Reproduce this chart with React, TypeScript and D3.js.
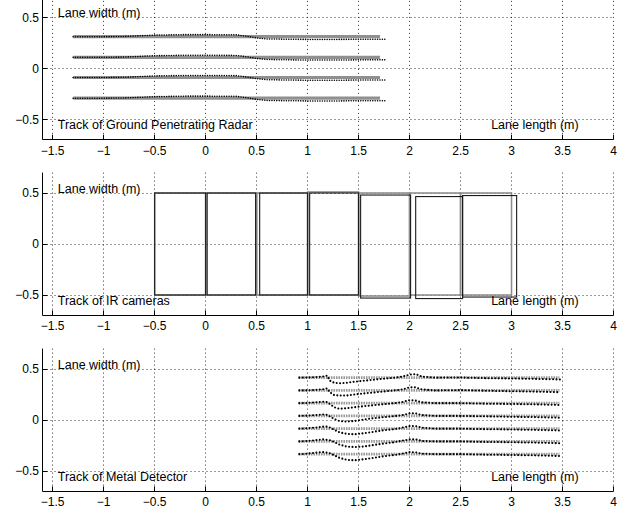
import React from "react";
import * as d3 from "d3";

// ---------- shared axis content ----------
const xTicks = [-1.5, -1, -0.5, 0, 0.5, 1, 1.5, 2, 2.5, 3, 3.5, 4];
const yTicks = [-0.5, 0, 0.5];
const panelTitles = [
  "Track of Ground Penetrating Radar",
  "Track of IR cameras",
  "Track of Metal Detector",
];
const yLabel = "Lane width (m)";
const xLabel = "Lane length (m)";

// ---------- Ground Penetrating Radar ----------
const gprTrackY = [0.31, 0.108, -0.09, -0.293];
const gprRefX = [-1.3, 1.71];
const gprX = [-1.3, -1.0, -0.8, -0.5, -0.2, 0.0, 0.3, 0.4, 0.5, 0.6, 0.8, 1.0, 1.3, 1.5, 1.77];
const gprDev = [0, 0, 0.002, 0.015, 0.02, 0.02, 0.018, 0.005, -0.012, -0.022, -0.025, -0.027, -0.027, -0.025, -0.025];

// ---------- IR cameras (frames) ----------
const irRefX0 = [-0.5, 0.0, 0.5, 1.0, 1.5, 2.0, 2.5];
const irRefX1 = [0.0, 0.5, 1.0, 1.5, 2.0, 2.5, 3.0];
const irRefTop = [0.5, 0.5, 0.5, 0.51, 0.5, 0.5, 0.5];
const irRefBottom = [-0.5, -0.5, -0.5, -0.5, -0.51, -0.5, -0.5];
const irMeasX0 = [-0.5, 0.015, 0.53, 1.02, 1.52, 2.06, 2.52];
const irMeasX1 = [0.0, 0.49, 1.0, 1.5, 2.01, 2.52, 3.05];
const irMeasTop = [0.5, 0.5, 0.5, 0.5, 0.48, 0.465, 0.475];
const irMeasBottom = [-0.5, -0.5, -0.5, -0.5, -0.53, -0.535, -0.52];

// ---------- Metal Detector ----------
const mdTrackY = [0.415, 0.29, 0.165, 0.04, -0.085, -0.21, -0.335];
const mdRefX = [0.91, 3.47];
const mdX = [0.92, 1.0, 1.08, 1.15, 1.19, 1.22, 1.26, 1.31, 1.38, 1.46, 1.55, 1.65, 1.75, 1.85, 1.93, 2.0, 2.06, 2.12, 2.25, 2.5, 2.75, 3.0, 3.25, 3.48];
const mdDev1 = [0.0, 0.002, 0.005, 0.01, 0.02, -0.03, -0.05, -0.055, -0.05, -0.04, -0.03, -0.02, -0.01, 0.0, 0.01, 0.03, 0.035, 0.01, 0.0, 0.002, -0.005, -0.008, -0.012, -0.018];
const mdDev2 = [0.0, 0.0, 0.005, 0.01, 0.02, -0.02, -0.045, -0.05, -0.05, -0.04, -0.03, -0.02, -0.01, 0.0, 0.01, 0.03, 0.03, 0.01, 0.0, 0.003, -0.003, -0.008, -0.012, -0.018];
const mdDev3 = [0.0, 0.002, 0.008, 0.015, 0.01, -0.01, -0.04, -0.055, -0.05, -0.04, -0.03, -0.02, -0.01, 0.0, 0.012, 0.03, 0.025, 0.008, 0.0, 0.0, -0.005, -0.008, -0.012, -0.018];
const mdDev4 = [0.0, 0.003, 0.008, 0.015, 0.01, -0.005, -0.03, -0.05, -0.055, -0.05, -0.035, -0.022, -0.012, -0.002, 0.008, 0.025, 0.025, 0.008, 0.0, 0.0, -0.004, -0.008, -0.012, -0.018];
const mdDev5 = [0.0, 0.005, 0.01, 0.02, 0.02, 0.01, -0.01, -0.035, -0.05, -0.055, -0.045, -0.03, -0.015, -0.005, 0.01, 0.025, 0.025, 0.01, 0.0, 0.0, -0.005, -0.008, -0.012, -0.018];
const mdDev6 = [0.0, 0.005, 0.012, 0.02, 0.015, 0.01, -0.005, -0.03, -0.05, -0.055, -0.05, -0.035, -0.02, -0.008, 0.008, 0.02, 0.02, 0.005, 0.0, 0.0, -0.005, -0.008, -0.012, -0.018];
const mdDev7 = [0.0, 0.005, 0.015, 0.02, 0.015, 0.008, -0.01, -0.035, -0.055, -0.06, -0.05, -0.035, -0.02, -0.008, 0.005, 0.02, 0.018, 0.005, 0.0, 0.0, -0.005, -0.008, -0.012, -0.018];
const mdDevs = [mdDev1, mdDev2, mdDev3, mdDev4, mdDev5, mdDev6, mdDev7];

// ---------- layout ----------
const W = 628;
const H = 519;
const LEFT = 42.5;
const RIGHT = 613.5;
const PANEL_TOPS = [-3.1, 172.6, 348.6];
const PANEL_H = 142.8;
const FONT = "'Liberation Sans', Arial, Helvetica, sans-serif";

const x = d3.scaleLinear().domain([-1.6, 4]).range([LEFT, RIGHT]);
const fmt = (v: number) => String(v).replace("-", "\u2212");

function Panel({ top, title, children }: { top: number; title: string; children: (y: d3.ScaleLinear<number, number>) => React.ReactNode }) {
  const y = d3.scaleLinear().domain([-0.7, 0.7]).range([top + PANEL_H, top]);
  const bottom = top + PANEL_H;
  const crisp = (v: number) => Math.round(v - 0.5) + 0.5;
  return (
    <g>
      {xTicks.map((t) => (
        <line key={"gx" + t} x1={crisp(x(t))} x2={crisp(x(t))} y1={top} y2={bottom} stroke="#000" strokeWidth={0.8} strokeDasharray="1,3" />
      ))}
      {yTicks.map((t) => (
        <line key={"gy" + t} x1={LEFT} x2={RIGHT} y1={crisp(y(t))} y2={crisp(y(t))} stroke="#000" strokeWidth={0.8} strokeDasharray="1,3" />
      ))}
      {children(y)}
      <line x1={LEFT} x2={LEFT} y1={top} y2={bottom} stroke="#000" strokeWidth={1} />
      <line x1={LEFT} x2={RIGHT} y1={crisp(bottom)} y2={crisp(bottom)} stroke="#000" strokeWidth={1} />
      {xTicks.map((t) => (
        <g key={"tx" + t}>
          <line x1={crisp(x(t))} x2={crisp(x(t))} y1={bottom} y2={bottom - 5} stroke="#000" />
          <text x={x(t)} y={bottom + 15} textAnchor="middle" fontSize={12} fontFamily={FONT}>{fmt(t)}</text>
        </g>
      ))}
      {yTicks.map((t) => (
        <g key={"ty" + t}>
          <line x1={LEFT} x2={LEFT + 5} y1={crisp(y(t))} y2={crisp(y(t))} stroke="#000" />
          <text x={LEFT - 3.5} y={y(t)} dy="0.35em" textAnchor="end" fontSize={12} fontFamily={FONT}>{fmt(t)}</text>
        </g>
      ))}
      <text x={x(-1.45)} y={y(0.5) - 0.5} fontSize={12.5} fontFamily={FONT}>{yLabel}</text>
      <text x={x(-1.45)} y={y(-0.595)} fontSize={12.5} fontFamily={FONT}>{title}</text>
      <text x={x(2.8)} y={y(-0.595)} fontSize={12.5} fontFamily={FONT}>{xLabel}</text>
    </g>
  );
}

export default function App() {
  const pathFor = (y: d3.ScaleLinear<number, number>) =>
    d3.line<[number, number]>().x((d) => x(d[0])).y((d) => y(d[1]));

  return (
    <svg width={W} height={H} style={{ position: "absolute", left: 0, top: 0, background: "#fff" }}>
      <rect x={0} y={0} width={W} height={H} fill="#fff" />
      <Panel top={PANEL_TOPS[0]} title={panelTitles[0]}>
        {(y) => {
          const line = pathFor(y);
          return (
            <g>
              {gprTrackY.map((ty, i) => (
                <path key={"gr" + i} d={line(gprRefX.map((gx) => [gx, ty] as [number, number])) || ""} stroke="#909090" strokeWidth={3.2} fill="none" />
              ))}
              {gprTrackY.map((ty, i) => (
                <path key={"gm" + i} d={line(gprX.map((gx, j) => [gx, ty + gprDev[j]] as [number, number])) || ""} stroke="#000" strokeWidth={1.6} strokeLinecap="round" strokeDasharray="0,2.4" fill="none" />
              ))}
            </g>
          );
        }}
      </Panel>
      <Panel top={PANEL_TOPS[1]} title={panelTitles[1]}>
        {(y) => (
          <g fill="none">
            {irRefX0.map((x0, i) => (
              <rect key={"ir" + i} x={x(x0)} y={y(irRefTop[i])} width={x(irRefX1[i]) - x(x0)} height={y(irRefBottom[i]) - y(irRefTop[i])} stroke="#8a8a8a" strokeWidth={1.5} />
            ))}
            {irMeasX0.map((x0, i) => (
              <rect key={"im" + i} x={x(x0)} y={y(irMeasTop[i])} width={x(irMeasX1[i]) - x(x0)} height={y(irMeasBottom[i]) - y(irMeasTop[i])} stroke="#1a1a1a" strokeWidth={1.1} />
            ))}
          </g>
        )}
      </Panel>
      <Panel top={PANEL_TOPS[2]} title={panelTitles[2]}>
        {(y) => {
          const line = pathFor(y);
          return (
            <g>
              {mdTrackY.map((ty, i) => (
                <path key={"mr" + i} d={line(mdRefX.map((mx) => [mx, ty] as [number, number])) || ""} stroke="#999" strokeWidth={2.6} strokeDasharray="1.6,0.9" fill="none" />
              ))}
              {mdTrackY.map((ty, i) => (
                <path key={"mm" + i} d={line(mdX.map((mx, j) => [mx, ty + mdDevs[i][j]] as [number, number])) || ""} stroke="#000" strokeWidth={2.1} strokeLinecap="round" strokeDasharray="0,3.4" fill="none" />
              ))}
            </g>
          );
        }}
      </Panel>
    </svg>
  );
}
